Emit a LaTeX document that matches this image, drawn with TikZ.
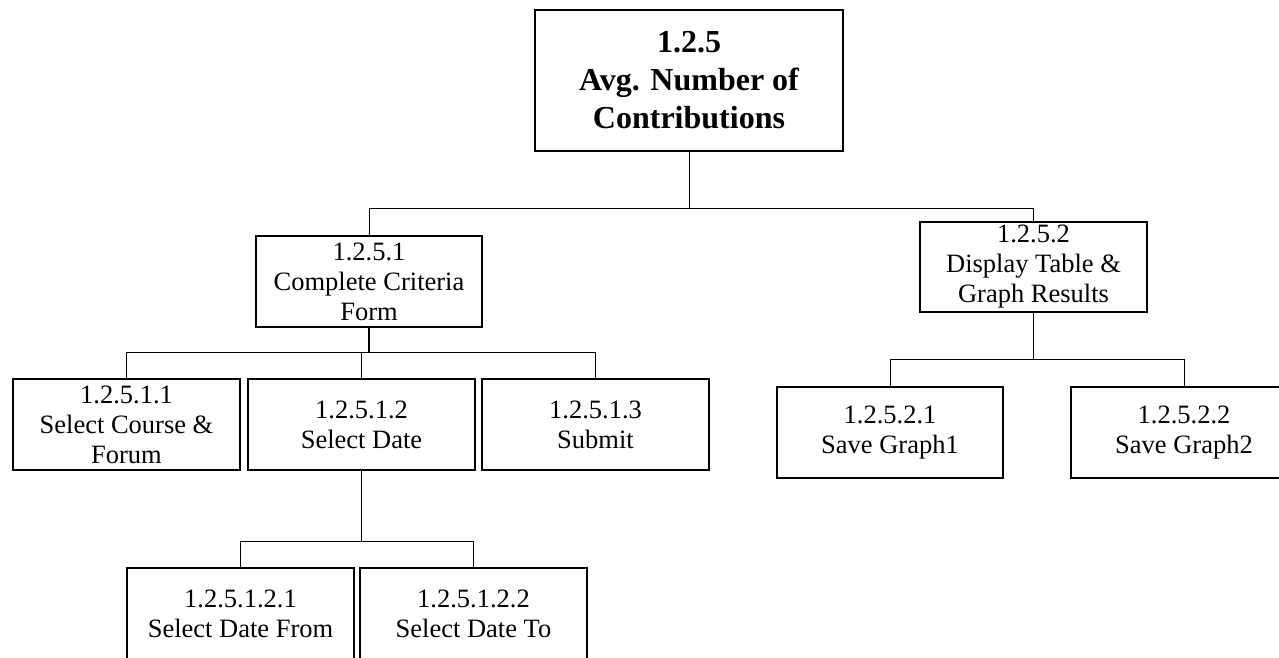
\documentclass[tikz,border=0pt]{standalone}
\usepackage{fontspec}
\setmainfont{Liberation Serif}
\begin{document}
\begin{tikzpicture}[x=1pt,y=-1pt,
  box/.style={draw, line width=1.4pt, align=center, inner sep=0pt,
    font=\fontsize{26.5}{30}\selectfont},
  rootbox/.style={box, font=\bfseries\fontsize{32}{38}\selectfont},
  link/.style={draw, line width=0.8pt}]
\clip (0,0) rectangle (1279,658);
\fill[white] (0,0) rectangle (1279,658);

% top level
\node[rootbox, minimum width=308pt, minimum height=141pt] (root) at (689,80.5)
  {1.2.5\\Avg. Number of\\Contributions};

% second level
\node[box, minimum width=226pt, minimum height=91pt] (n1) at (369,281.5)
  {1.2.5.1\\Complete Criteria\\Form};
\node[box, minimum width=227pt, minimum height=90pt] (n2) at (1033.5,267)
  {1.2.5.2\\Display Table \&\\Graph Results};

% third level under 1.2.5.1
\node[box, minimum width=227pt, minimum height=91pt] (n11) at (126.5,424.5)
  {1.2.5.1.1\\Select Course \&\\Forum};
\node[box, minimum width=227pt, minimum height=91pt] (n12) at (361.5,424.5)
  {1.2.5.1.2\\Select Date};
\node[box, minimum width=227pt, minimum height=91pt] (n13) at (595.5,424.5)
  {1.2.5.1.3\\Submit};

% third level under 1.2.5.2
\node[box, minimum width=226pt, minimum height=91pt] (n21) at (890,432.5)
  {1.2.5.2.1\\Save Graph1};
\node[box, minimum width=226pt, minimum height=91pt] (n22) at (1184,432.5)
  {1.2.5.2.2\\Save Graph2};

% fourth level under 1.2.5.1.2
\node[box, minimum width=227pt, minimum height=91pt] (n121) at (240.5,613.5)
  {1.2.5.1.2.1\\Select Date From};
\node[box, minimum width=227pt, minimum height=91pt] (n122) at (473.5,613.5)
  {1.2.5.1.2.2\\Select Date To};

% connectors
\draw[link] (root.south) -- ++(0,57) -| (n1.north);
\draw[link] (root.south) -- ++(0,57) -| (n2.north);

\draw[link] (n1.south) -- ++(0,25) -| (n11.north);
\draw[link] (n1.south) -- ++(0,25) -| (n12.north);
\draw[link] (n1.south) -- ++(0,25) -| (n13.north);
\draw[line width=1.4pt] (n1.south) -- ++(0,25);

\draw[link] (n2.south) -- ++(0,47) -| (n21.north);
\draw[link] (n2.south) -- ++(0,47) -| (n22.north);

\draw[link] (n12.south) -- ++(0,71) -| (n121.north);
\draw[link] (n12.south) -- ++(0,71) -| (n122.north);
\end{tikzpicture}
\end{document}
